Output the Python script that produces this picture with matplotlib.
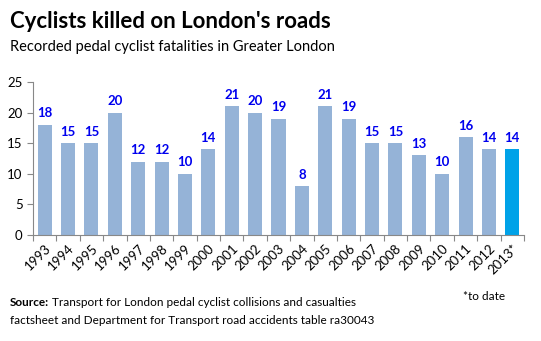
import matplotlib
matplotlib.use("Agg")
import matplotlib.pyplot as plt

years = ["1993", "1994", "1995", "1996", "1997", "1998", "1999", "2000", "2001", "2002",
         "2003", "2004", "2005", "2006", "2007", "2008", "2009", "2010", "2011", "2012", "2013*"]
deaths = [18, 15, 15, 20, 12, 12, 10, 14, 21, 20, 19, 8, 21, 19, 15, 15, 13, 10, 16, 14, 14]
yticks = [0, 5, 10, 15, 20, 25]

plt.rcParams['font.family'] = ['Lato', 'DejaVu Sans']

fig = plt.figure(figsize=(5.41, 3.41), dpi=100)
ax = fig.add_axes([33/541, 106/341, (524-33)/541, (235-82)/341])

colors = ["#95B3D7"] * (len(years) - 1) + ["#00A2E8"]
x = list(range(len(years)))
bars = ax.bar(x, deaths, width=0.6, color=colors)
for xi, v in zip(x, deaths):
    ax.text(xi, v + 0.9, str(v), ha='center', va='bottom', color='#0000EE',
            fontsize=9.5, fontweight='bold')

ax.set_xlim(-0.5, len(years) - 0.5)
ax.set_ylim(0, 25)
ax.set_yticks(yticks)
ax.set_yticklabels([str(t) for t in yticks], fontsize=9.5)
ax.set_xticks([i - 0.5 for i in range(len(years) + 1)])
ax.set_xticklabels([])
ax.set_xticks(x, minor=True)
ax.set_xticklabels(years, minor=True, rotation=45, ha='right', rotation_mode='anchor', fontsize=9.5)
ax.tick_params(axis='x', which='minor', length=0, pad=5)
ax.tick_params(axis='x', which='major', length=4, color='#888888')
ax.tick_params(axis='y', length=4, color='#888888')
for s in ['top', 'right']:
    ax.spines[s].set_visible(False)
for s in ['left', 'bottom']:
    ax.spines[s].set_color('#888888')

fig.text(10/541, 1 - 22/341, "Cyclists killed on London's roads", fontsize=16, fontweight='bold',
         va='center', ha='left')
fig.text(10/541, 1 - 47/341, "Recorded pedal cyclist fatalities in Greater London", fontsize=10.5,
         va='center', ha='left')
fig.text(505/541, 1 - 297/341, "*to date", fontsize=8.5, va='center', ha='right')
src = fig.text(10/541, 1 - 302/341, "Source:", fontsize=8.5, fontweight='bold', va='center', ha='left')
fig.canvas.draw()
bb = src.get_window_extent(renderer=fig.canvas.get_renderer())
fig.text((bb.x1 + 3) / 541, 1 - 302/341,
         "Transport for London pedal cyclist collisions and casualties",
         fontsize=8.5, va='center', ha='left')
fig.text(10/541, 1 - 320/341, "factsheet and Department for Transport road accidents table ra30043",
         fontsize=8.5, va='center', ha='left')

fig.savefig("out.png", dpi=100)
